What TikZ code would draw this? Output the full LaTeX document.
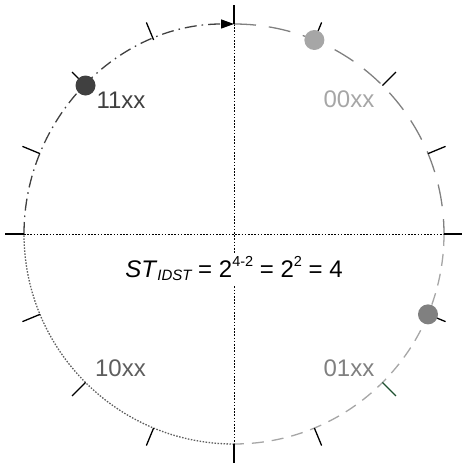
\documentclass[tikz,border=0pt]{standalone}
\usepackage{fontspec}
\setmainfont{Liberation Sans}
\usetikzlibrary{arrows.meta}
\definecolor{dk}{HTML}{404040}
\definecolor{md}{HTML}{808080}
\definecolor{lt}{HTML}{A6A6A6}
\definecolor{dd}{HTML}{5E5E5E}
\definecolor{gr}{HTML}{1E5030}
\begin{document}
\begin{tikzpicture}[x=1pt,y=1pt,
  tickline/.style={line width=1.3pt, black},
  axisdot/.style={line width=0.8pt, black, dash pattern=on 1.6pt off 1.6pt},
  arcline/.style={line width=1.3pt},
  lbl/.style={font=\fontsize{24}{28}\selectfont, inner sep=0pt},
  bit/.style={circle, inner sep=0pt, minimum size=20pt}]
\useasboundingbox (-234,-234) rectangle (227,234);
% axis ends on the circle
\coordinate (W) at (180:210);
\coordinate (E) at (0:210);
\coordinate (N) at (90:210);
\coordinate (S) at (270:210);
% dotted axes
\draw[axisdot] (W) -- (E);
\draw[axisdot] (N) -- (S);
% quadrant arcs
\draw[arcline, dk, dash pattern=on 12pt off 5pt on 1.5pt off 5pt,
  -{Triangle[length=13pt,width=9pt,black]}]
  (W) arc[start angle=180, end angle=90, radius=210];
\draw[arcline, md, dash pattern=on 22pt off 13pt]
  (N) arc[start angle=90, end angle=0, radius=210];
\draw[arcline, lt, dash pattern=on 12pt off 8pt]
  (E) arc[start angle=0, end angle=-90, radius=210];
\draw[arcline, dd, dash pattern=on 1.5pt off 1.5pt]
  (S) arc[start angle=-90, end angle=-180, radius=210];
% ticks
\foreach \a in {0,22.5,45,67.5,90,112.5,135,157.5,180,202.5,225,247.5,270,292.5,337.5}
  \draw[tickline] (\a:210) -- (\a:229);
\draw[tickline, gr] (315:210) -- (315:229);
% dots
\node[bit, fill=dk] (d11) at (135:210) {};
\node[bit, fill=lt] (d00) at (67.5:210) {};
\node[bit, fill=md] (d01) at (-22.5:210) {};
% labels
\node[lbl, text=dk] (l11) at (-113,134) {11xx};
\node[lbl, text=lt] (l00) at (115,134.5) {00xx};
\node[lbl, text=dd] (l10) at (-113.5,-134.5) {10xx};
\node[lbl, text=md] (l01) at (115,-134.5) {01xx};
% formula
\node[lbl, anchor=base, fill=white, inner sep=4pt] (st) at (0,-44)
  {\textit{ST}\raisebox{-3pt}{\fontsize{15}{15}\selectfont\itshape IDST} = 2\raisebox{11pt}{\fontsize{14.5}{15}\selectfont 4-2} = 2\raisebox{11pt}{\fontsize{14.5}{15}\selectfont 2} = 4};
\end{tikzpicture}
\end{document}
